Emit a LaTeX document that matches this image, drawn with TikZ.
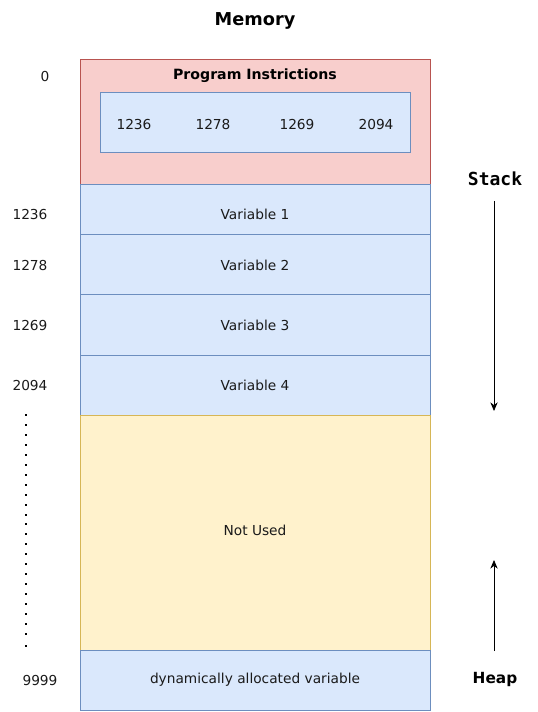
\documentclass[tikz,border=0pt]{standalone}
\usepackage{fontspec}
\setmainfont{DejaVu Sans}
\setmonofont{DejaVu Sans Mono}
\usetikzlibrary{arrows.meta}
\definecolor{redfill}{HTML}{F8CECC}
\definecolor{redline}{HTML}{B85450}
\definecolor{bluefill}{HTML}{DAE8FC}
\definecolor{blueline}{HTML}{6C8EBF}
\definecolor{yelfill}{HTML}{FFF2CC}
\definecolor{yelline}{HTML}{D6B656}
\definecolor{txt}{HTML}{1A1A1A}
\tikzset{
  cell/.style={draw=blueline, fill=bluefill, line width=0.75pt},
  lbl/.style={font=\fontsize{10.3}{12}\selectfont, text=txt},
  addr/.style={font=\fontsize{10.3}{12}\selectfont, text=txt},
  arr/.style={-{Stealth[length=6.5pt,width=5.5pt]}, line width=0.6pt},
}
\begin{document}
\begin{tikzpicture}[x=0.75pt,y=-0.75pt]
\useasboundingbox (0,0) rectangle (537,712);
% title
\node[font=\bfseries\fontsize{13.3}{15}\selectfont] (title) at (255,21) {Memory};
% program instructions block
\draw[draw=redline, fill=redfill, line width=0.75pt] (80,60) rectangle (430,185);
\node[font=\bfseries\fontsize{10.6}{12}\selectfont] (prog) at (255,75.5) {Program Instrictions};
\draw[cell] (100,93) rectangle (410,153);
\node[lbl] (n1) at (134,125) {1236};
\node[lbl] (n2) at (213,125) {1278};
\node[lbl] (n3) at (297,125) {1269};
\node[lbl] (n4) at (376,125) {2094};
% variables
\draw[cell] (80,185) rectangle (430,235);
\node[lbl] (v1) at (255,214) {Variable 1};
\draw[cell] (80,235) rectangle (430,295);
\node[lbl] (v2) at (255,265) {Variable 2};
\draw[cell] (80,295) rectangle (430,355);
\node[lbl] (v3) at (255,325) {Variable 3};
\draw[cell] (80,355) rectangle (430,415);
\node[lbl] (v4) at (255,385) {Variable 4};
% not used
\draw[draw=yelline, fill=yelfill, line width=0.75pt] (80,415) rectangle (430,650);
\node[lbl] (nu) at (255,530) {Not Used};
% heap variable
\draw[cell] (80,650) rectangle (430,710);
\node[lbl] (dyn) at (255,680) {dynamically allocated variable};
% addresses
\node[addr] (a0) at (45,77) {0};
\node[addr] (a1) at (30,214.5) {1236};
\node[addr] (a2) at (30,265.5) {1278};
\node[addr] (a3) at (30,325.5) {1269};
\node[addr] (a4) at (30,385) {2094};
\node[addr] (a5) at (40,680.5) {9999};
% dotted line
\foreach \i in {0,...,22} {
  \fill (25,{414+\i*9.95}) rectangle (27,{416+\i*9.95});
}
\fill (25,645) rectangle (27,647);
% stack / heap
\node[font=\ttfamily\bfseries\fontsize{13.5}{15}\selectfont] (stack) at (495,179) {Stack};
\node[font=\bfseries\fontsize{11.5}{13}\selectfont] (heap) at (495,679) {Heap};
\coordinate (s1) at (494,201);
\coordinate (s2) at (494,411);
\coordinate (h1) at (494,651);
\coordinate (h2) at (494,560);
\draw[arr] (s1) -- (s2);
\draw[arr] (h1) -- (h2);
\end{tikzpicture}
\end{document}
